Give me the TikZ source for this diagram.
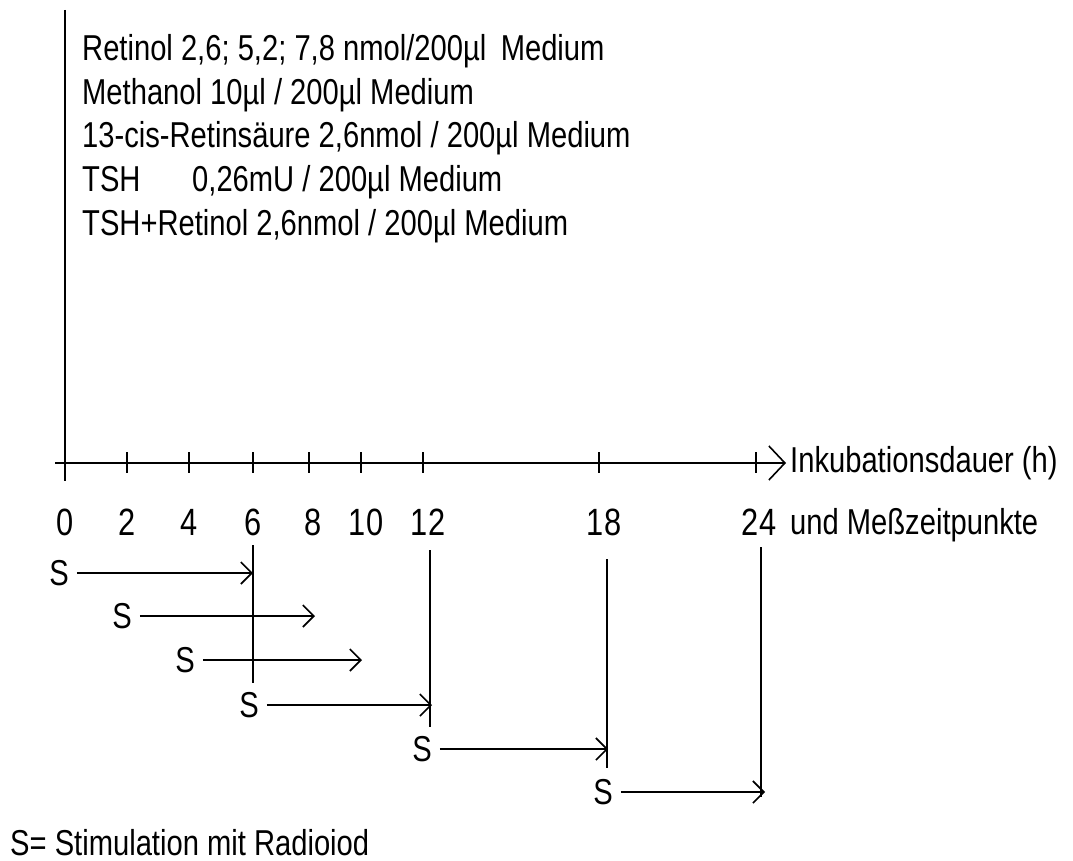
\documentclass[tikz,border=0pt]{standalone}
\usepackage{fontspec}
\setmainfont[FakeStretch=0.81]{Liberation Sans}
\usetikzlibrary{arrows.meta}
\begin{document}
\begin{tikzpicture}[x=1pt,y=-1pt,
  txt/.style={font=\fontsize{36}{43}\selectfont, inner sep=0pt},
  numtxt/.style={font=\fontsize{38}{43}\selectfont, inner sep=0pt},
  ln/.style={line width=1.6pt},
  stip/.style={ln,-{Straight Barb[length=11pt,width=22pt,line width=1.6pt]}},
  axtip/.style={ln,-{Straight Barb[length=16pt,width=34pt,line width=1.6pt]}},
  slabel/.style={txt, inner xsep=8pt}]
\useasboundingbox (0,0) rectangle (1073,861);
% legend text
\node[txt,anchor=base west] (l1) at (82,61) {Retinol 2,6; 5,2; 7,8 nmol/200µl\hspace{0.4em}Medium};
\node[txt,anchor=base west] (l2) at (82,104.5) {Methanol 10µl / 200µl Medium};
\node[txt,anchor=base west] (l3) at (82,148) {13-cis-Retinsäure 2,6nmol / 200µl Medium};
\node[txt,anchor=base west] (l4a) at (82,191.5) {TSH};
\node[txt,anchor=base west] (l4b) at (192,191.5) {0,26mU / 200µl Medium};
\node[txt,anchor=base west] (l5) at (82,235) {TSH+Retinol 2,6nmol / 200µl Medium};
% axes
\coordinate (vtop) at (65,10);
\coordinate (vbot) at (65,481);
\coordinate (hstart) at (55,463);
\coordinate (hend) at (786,463);
\draw[ln] (vtop) -- (vbot);
\draw[axtip] (hstart) -- (hend);
\foreach \x in {127,189,253,309,361,423,599,756}
  \draw[ln] (\x,452) -- (\x,473);
\foreach \x/\t in {65/0,127/2,189/4,253/6,313/8,366/10,428/12,604/18,759/24}
  \node[numtxt,anchor=base] at (\x,535) {\t};
\node[txt,anchor=west] (axl) at (790,463) {Inkubationsdauer (h)};
\node[txt,anchor=base west] (axl2) at (790,534) {und Meßzeitpunkte};
% measurement lines
\coordinate (m6a) at (253,545);  \coordinate (m6b) at (253,683);
\coordinate (m12a) at (430,550); \coordinate (m12b) at (430,727);
\coordinate (m18a) at (607,559); \coordinate (m18b) at (607,768);
\coordinate (m24a) at (761,547); \coordinate (m24b) at (761,797);
\draw[ln] (m6a) -- (m6b);
\draw[ln] (m12a) -- (m12b);
\draw[ln] (m18a) -- (m18b);
\draw[ln] (m24a) -- (m24b);
% stimulation arrows
\node[slabel] (s1) at (59,573) {S};
\node[slabel] (s2) at (122,616) {S};
\node[slabel] (s3) at (185,660) {S};
\node[slabel] (s4) at (249,705) {S};
\node[slabel] (s5) at (422,749) {S};
\node[slabel] (s6) at (603,792) {S};
\coordinate (t1) at (253,573);
\coordinate (t2) at (315,616);
\coordinate (t3) at (362,660);
\coordinate (t4) at (432,705);
\coordinate (t5) at (608,749);
\coordinate (t6) at (765,792);
\draw[stip] (s1) -- (t1);
\draw[stip] (s2) -- (t2);
\draw[stip] (s3) -- (t3);
\draw[stip] (s4) -- (t4);
\draw[stip] (s5) -- (t5);
\draw[stip] (s6) -- (t6);
\node[txt,anchor=base west] (leg) at (10,855) {S= Stimulation mit Radioiod};
\end{tikzpicture}
\end{document}
